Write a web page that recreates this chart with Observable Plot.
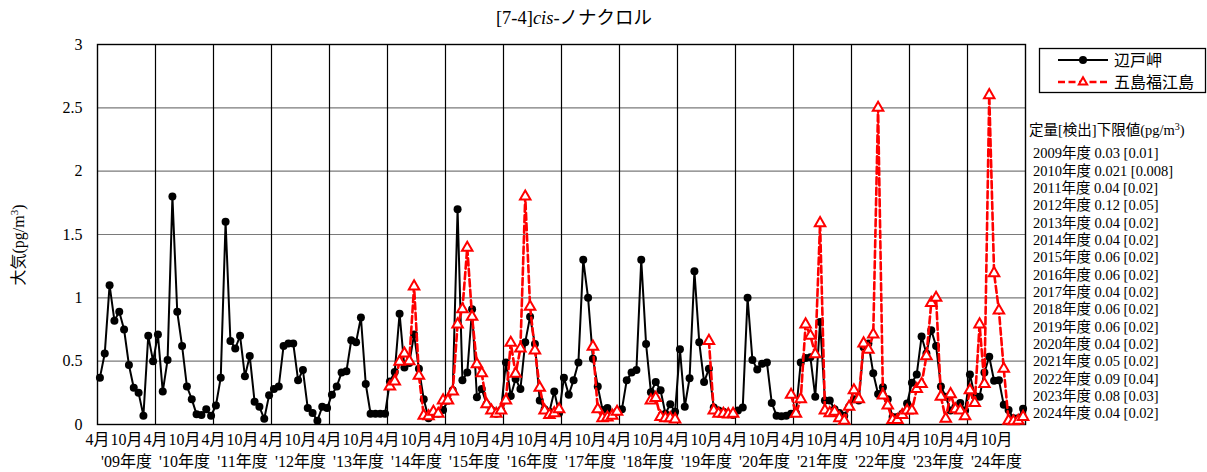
<!DOCTYPE html>
<html><head><meta charset="utf-8">
<script src="https://cdn.jsdelivr.net/npm/d3@7"></script>
<script src="https://cdn.jsdelivr.net/npm/@observablehq/plot@0.6"></script>
<style>body{margin:0;background:#fff} svg{display:block}</style>
</head><body><div id="chart"></div>
<script>
// Fiscal-year labels (x axis second row)
const fiscalYears = ["'09年度","'10年度","'11年度","'12年度","'13年度","'14年度","'15年度","'16年度","'17年度","'18年度","'19年度","'20年度","'21年度","'22年度","'23年度","'24年度"];
const monthLabels = ["4月","10月"];
const yTicks = [0,0.5,1,1.5,2,2.5,3];
const seriesNames = ["辺戸岬","五島福江島"];
const limitTitle = "定量[検出]下限値(pg/m";
const limits = ["2009年度 0.03 [0.01]","2010年度 0.021 [0.008]","2011年度 0.04 [0.02]","2012年度 0.12 [0.05]","2013年度 0.04 [0.02]","2014年度 0.04 [0.02]","2015年度 0.06 [0.02]","2016年度 0.06 [0.02]","2017年度 0.04 [0.02]","2018年度 0.06 [0.02]","2019年度 0.06 [0.02]","2020年度 0.04 [0.02]","2021年度 0.05 [0.02]","2022年度 0.09 [0.04]","2023年度 0.08 [0.03]","2024年度 0.04 [0.02]"];

// 辺戸岬 monthly values, April 2009 .. March 2025
const hedo = [
 0.37,0.56,1.10,0.82,0.89,0.75,0.47,0.29,0.25,0.07,0.70,0.50,
 0.71,0.26,0.51,1.80,0.89,0.62,0.30,0.20,0.08,0.075,0.12,0.07,
 0.15,0.37,1.60,0.66,0.60,0.70,0.38,0.54,0.18,0.14,0.045,0.23,
 0.28,0.30,0.62,0.64,0.64,0.35,0.43,0.13,0.09,0.03,0.14,0.13,
 0.235,0.30,0.41,0.42,0.665,0.65,0.845,0.32,0.085,0.085,0.085,0.085,
 0.34,0.415,0.875,0.45,0.485,0.71,0.44,0.20,0.05,0.085,0.085,0.115,
 0.19,0.27,1.70,0.35,0.41,0.91,0.215,0.28,0.16,0.115,0.085,0.115,
 0.49,0.225,0.36,0.28,0.65,0.85,0.635,0.19,0.12,0.10,0.26,0.09,
 0.37,0.235,0.35,0.49,1.30,1.00,0.52,0.30,0.115,0.13,0.08,0.10,
 0.12,0.35,0.41,0.43,1.30,0.635,0.255,0.335,0.27,0.085,0.16,0.10,
 0.595,0.14,0.365,1.21,0.65,0.335,0.44,0.135,0.11,0.10,0.08,0.075,
 0.11,0.135,1.00,0.51,0.435,0.48,0.49,0.17,0.07,0.065,0.07,0.085,
 0.09,0.49,0.525,0.53,0.22,0.81,0.19,0.19,0.12,0.09,0.07,0.14,
 0.20,0.19,0.61,0.64,0.405,0.24,0.295,0.20,0.06,0.06,0.085,0.165,
 0.33,0.395,0.695,0.56,0.745,0.62,0.30,0.22,0.11,0.14,0.17,0.11,
 0.395,0.225,0.22,0.41,0.535,0.345,0.35,0.155,0.115,0.05,0.05,0.125
];

// 五島福江島 monthly values (null = not measured)
const goto = [
 null,null,null,null,null,null,null,null,null,null,null,null,
 null,null,null,null,null,null,null,null,null,null,null,null,
 null,null,null,null,null,null,null,null,null,null,null,null,
 null,null,null,null,null,null,null,null,null,null,null,null,
 null,null,null,null,null,null,null,null,null,null,null,null,
 0.30,0.34,0.495,0.56,0.50,1.09,0.385,0.07,0.065,0.10,0.085,0.19,
 0.19,0.26,0.79,0.91,1.395,0.85,0.475,0.405,0.16,0.11,0.085,0.11,
 0.19,0.645,0.40,0.60,1.80,0.93,0.585,0.29,0.11,0.075,0.09,0.12,
 null,null,null,null,null,null,0.615,0.12,0.05,0.055,0.07,0.10,
 null,null,null,null,null,null,0.19,0.21,0.06,0.05,0.05,0.04,
 null,null,null,null,null,null,0.66,0.11,0.085,0.085,0.08,0.085,
 null,null,null,null,null,null,null,null,null,null,null,0.235,
 0.085,0.20,0.79,0.70,0.555,1.59,0.11,0.09,0.10,0.05,0.03,0.14,
 0.27,0.20,0.64,0.59,0.71,2.50,0.23,0.15,0.035,0.035,0.075,0.11,
 0.11,0.28,0.32,0.54,0.96,1.00,0.22,0.045,0.24,0.12,0.11,0.065,
 0.27,0.17,0.79,0.32,2.60,1.195,0.90,0.44,0.03,0.025,0.03,0.06
];

const FONT = "'Liberation Serif','Noto Sans CJK JP',serif";
const hedoData = hedo.map((v, i) => ({m: i + 0.5, v}));
const gotoData = goto.map((v, i) => ({m: i + 0.5, v: v == null ? NaN : v}));
const nMonths = fiscalYears.length * 12;
const yearStarts = d3.range(12, nMonths, 12);
const halfYearTicks = d3.range(0, nMonths, 6);
const yearMids = d3.range(6, nMonths, 12);

const chart = Plot.plot({
  width: 1207, height: 472,
  marginLeft: 97, marginRight: 182, marginTop: 44, marginBottom: 48,
  style: {fontFamily: FONT, fontSize: "16px", background: "white", color: "black"},
  x: {domain: [0, nMonths], axis: null},
  y: {domain: [0, 3], axis: null},
  marks: [
    Plot.ruleY(yTicks.filter(d => d > 0 && d < 3), {stroke: "#7a7a7a", strokeWidth: 1.2}),
    Plot.ruleX(yearStarts, {stroke: "#000", strokeWidth: 1.2}),
    Plot.frame({stroke: "#000", strokeWidth: 1.4}),
    Plot.axisY(yTicks, {tickSize: 0, tickPadding: 15, tickFormat: d => String(d), fontSize: 16, fontFamily: FONT, label: null}),
    Plot.axisX(halfYearTicks, {tickSize: 0, tickPadding: 9, tickFormat: d => monthLabels[(d % 12) / 6], fontSize: 16, fontFamily: FONT, label: null}),
    Plot.axisX(yearMids, {tickSize: 0, tickPadding: 31, tickFormat: d => fiscalYears[(d - 6) / 12], fontSize: 16, fontFamily: FONT, label: null}),
    Plot.line(hedoData, {x: "m", y: "v", stroke: "#000", strokeWidth: 2}),
    Plot.dot(hedoData, {x: "m", y: "v", fill: "#000", r: 4}),
    Plot.line(gotoData, {x: "m", y: "v", stroke: "#ff0000", strokeWidth: 2.6, strokeDasharray: "7,3.5"}),
    Plot.dot(gotoData, {x: "m", y: "v", symbol: "triangle", stroke: "#ff0000", fill: "#fff", strokeWidth: 2, r: 3.9})
  ]
});
document.getElementById("chart").appendChild(chart);

const svg = d3.select(chart);
// Title
const title = svg.append("text").attr("x", 574).attr("y", 24).attr("text-anchor", "middle")
  .style("font-family", FONT).style("font-size", "18.5px");
title.append("tspan").text("[7-4]");
title.append("tspan").style("font-style", "italic").text("cis-");
title.append("tspan").text("ノナクロル");

// Y label
const yl = svg.append("text").attr("transform", "translate(24,245) rotate(-90)").attr("text-anchor", "middle")
  .style("font-family", FONT).style("font-size", "16px");
yl.append("tspan").text("大気(pg/m");
yl.append("tspan").attr("baseline-shift", "super").style("font-size", "11px").text("3");
yl.append("tspan").text(")");

// Legend
const lg = svg.append("g").attr("text-anchor", "start").style("font-family", FONT).style("font-size", "16px");
lg.append("rect").attr("x", 1039.5).attr("y", 48.5).attr("width", 166).attr("height", 44)
  .attr("fill", "#fff").attr("stroke", "#000").attr("stroke-width", 1.3);
lg.append("line").attr("x1", 1058).attr("x2", 1108).attr("y1", 60).attr("y2", 60).attr("stroke", "#000").attr("stroke-width", 2);
lg.append("circle").attr("cx", 1083).attr("cy", 60).attr("r", 4).attr("fill", "#000");
lg.append("text").attr("x", 1114).attr("y", 60).attr("dy", "0.35em").text(seriesNames[0]);
lg.append("line").attr("x1", 1058).attr("x2", 1108).attr("y1", 82).attr("y2", 82).attr("stroke", "#ff0000").attr("stroke-width", 2.6).attr("stroke-dasharray", "7,3.5");
lg.append("path").attr("d", d3.symbol(d3.symbolTriangle, 30)()).attr("transform", "translate(1083,82)")
  .attr("fill", "#fff").attr("stroke", "#ff0000").attr("stroke-width", 2);
lg.append("text").attr("x", 1114).attr("y", 82).attr("dy", "0.35em").text(seriesNames[1]);

// Detection limits annotation
const an = svg.append("g").attr("text-anchor", "start").style("font-family", FONT).style("font-size", "14.5px");
const ht = an.append("text").attr("x", 1029).attr("y", 130).attr("dy", "0.35em");
ht.append("tspan").text(limitTitle);
ht.append("tspan").attr("baseline-shift", "super").style("font-size", "10px").text("3");
ht.append("tspan").text(")");
limits.forEach((t, i) => {
  an.append("text").attr("x", 1033).attr("y", 153.3 + i * 17.33).attr("dy", "0.35em").text(t);
});
</script></body></html>
